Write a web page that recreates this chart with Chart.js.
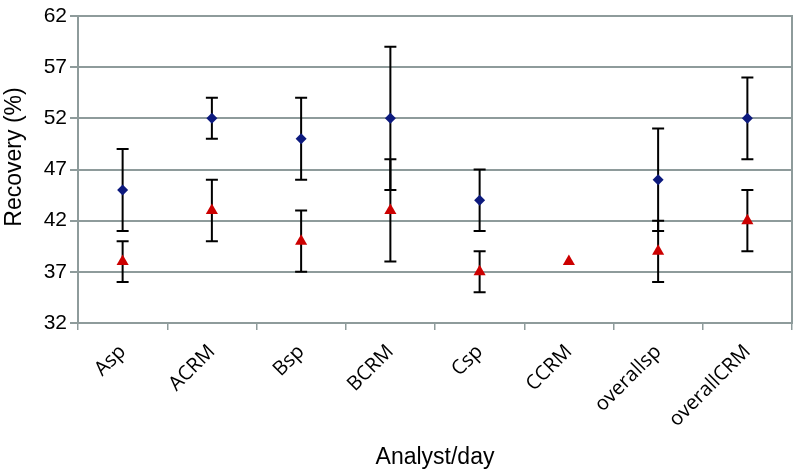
<!DOCTYPE html>
<html>
<head>
<meta charset="utf-8">
<script src="https://cdn.jsdelivr.net/npm/chart.js@4/dist/chart.umd.min.js"></script>
<style>
  html, body { margin: 0; padding: 0; background: #ffffff; }
  #wrap { width: 799px; height: 475px; position: relative; }
</style>
</head>
<body>
<div id="wrap"><canvas id="c" width="799" height="475"></canvas></div>
<script>
// ---- data ----
const categories = ['Asp', 'ACRM', 'Bsp', 'BCRM', 'Csp', 'CCRM', 'overallsp', 'overallCRM'];
const blueValues = [45, 52, 50, 52, 44, null, 46, 52];
const blueErrors = [4, 2, 4, 7, 3, null, 5, 4];
const redValues  = [38, 43, 40, 43, 37, 38, 39, 42];
const redErrors  = [2, 3, 3, 5, 2, null, 3, 3];
const yTicks = [32, 37, 42, 47, 52, 57, 62];
const yTitle = 'Recovery (%)';
const xTitle = 'Analyst/day';

const GRID = '#8e9b9b';

const errorBarPlugin = {
  id: 'errorBars',
  beforeDatasetsDraw(chart) {
    const ctx = chart.ctx;
    const x = chart.scales.x, y = chart.scales.y;
    const sets = [[blueValues, blueErrors], [redValues, redErrors]];
    ctx.save();
    ctx.strokeStyle = '#000000';
    ctx.lineWidth = 2;
    sets.forEach(([vals, errs]) => {
      vals.forEach((v, i) => {
        if (v == null || errs[i] == null) return;
        const px = x.getPixelForValue(i);
        const top = y.getPixelForValue(v + errs[i]);
        const bot = y.getPixelForValue(v - errs[i]);
        const cap = 6;
        ctx.beginPath();
        ctx.moveTo(px, top); ctx.lineTo(px, bot);
        ctx.moveTo(px - cap, top); ctx.lineTo(px + cap, top);
        ctx.moveTo(px - cap, bot); ctx.lineTo(px + cap, bot);
        ctx.stroke();
      });
    });
    ctx.restore();
  }
};

const framePlugin = {
  id: 'frame',
  beforeDatasetsDraw(chart) {
    const a = chart.chartArea, ctx = chart.ctx;
    ctx.save();
    ctx.strokeStyle = GRID;
    ctx.lineWidth = 2;
    ctx.beginPath();
    ctx.moveTo(a.right, a.top - 1);
    ctx.lineTo(a.right, a.bottom + 1);
    ctx.stroke();
    ctx.restore();
  },
  afterDraw(chart) {
    const ctx = chart.ctx;
    ctx.save();
    ctx.fillStyle = '#000000';
    ctx.font = '23px "Liberation Sans"';
    ctx.textAlign = 'center';
    ctx.textBaseline = 'middle';
    ctx.translate(15, 157);
    ctx.rotate(-Math.PI / 2);
    ctx.fillText(yTitle, 0, 0);
    ctx.restore();
  }
};

new Chart(document.getElementById('c'), {
  type: 'line',
  data: {
    labels: categories,
    datasets: [
      {
        data: blueValues,
        showLine: false,
        pointStyle: 'rectRot',
        pointRadius: 5.5,
        pointHoverRadius: 5.5,
        backgroundColor: '#0d1a7e',
        borderColor: '#0d1a7e',
        borderWidth: 0,
        clip: false
      },
      {
        data: redValues,
        showLine: false,
        pointStyle: 'triangle',
        pointRadius: 7,
        pointHoverRadius: 7,
        backgroundColor: '#cc0000',
        borderColor: '#cc0000',
        borderWidth: 0,
        clip: false
      }
    ]
  },
  options: {
    responsive: false,
    animation: false,
    devicePixelRatio: 1,
    layout: { padding: { top: 16, right: 3, left: 0, bottom: 4 } },
    plugins: { legend: { display: false }, tooltip: { enabled: false } },
    scales: {
      x: {
        type: 'category',
        offset: true,
        grid: { offset: true, drawOnChartArea: false, drawTicks: true, tickLength: 7, color: GRID, lineWidth: 1.5 },
        border: { display: true, color: GRID, width: 2 },
        ticks: {
          color: '#000000',
          font: { family: 'Open Sans', size: 20 },
          maxRotation: 45, minRotation: 45,
          padding: 10,
          autoSkip: false
        },
        title: {
          display: true, text: xTitle, color: '#000000',
          font: { family: 'Liberation Sans', size: 23 },
          padding: { top: 0, bottom: 0 }
        },
        afterFit(scale) { scale.height = 475 - 323 - 4; }
      },
      y: {
        min: 32, max: 62,
        afterBuildTicks(scale) { scale.ticks = yTicks.map(v => ({ value: v })); },
        grid: { color: GRID, lineWidth: 2, tickLength: 8, drawTicks: true },
        border: { display: true, color: GRID, width: 2 },
        ticks: {
          color: '#000000',
          font: { family: 'Liberation Sans', size: 21 },
          padding: 3
        },
        title: { display: false },
        afterFit(scale) { scale.width = 78; }
      }
    }
  },
  plugins: [errorBarPlugin, framePlugin]
});
</script>
</body>
</html>
